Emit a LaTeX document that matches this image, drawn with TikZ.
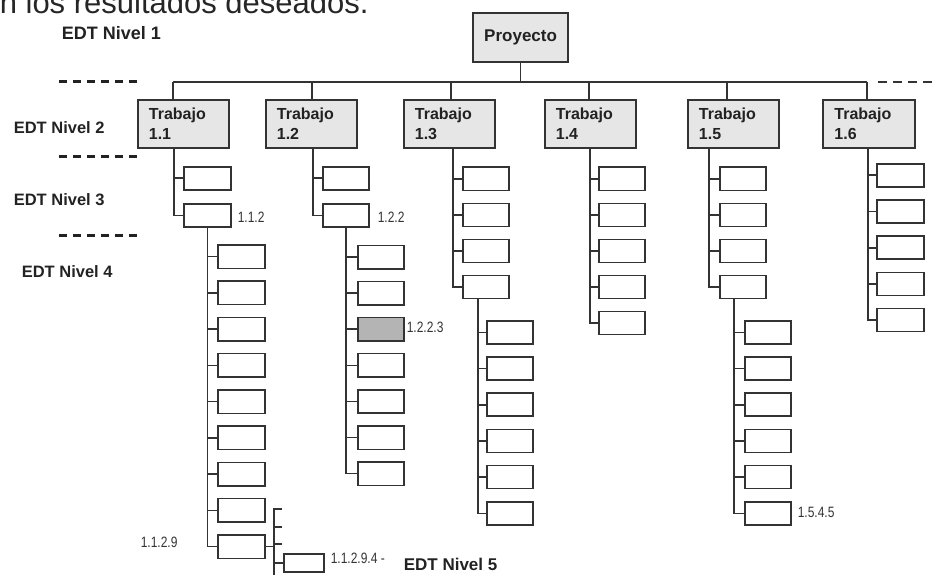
\documentclass[tikz,border=0pt]{standalone}
\usepackage{fontspec}
\usepackage{graphicx}
\setmainfont{Liberation Sans}
\definecolor{ln}{HTML}{333333}
\definecolor{txt}{HTML}{222222}
\definecolor{wpfill}{HTML}{E6E6E6}
\definecolor{hl}{HTML}{B4B4B4}
\newcommand{\narrowtext}[1]{\scalebox{0.8}[1]{#1}}
\begin{document}
\begin{tikzpicture}[x=1pt,y=-1pt,
  line width=1.6pt, color=ln,
  wp/.style={draw=ln, fill=wpfill, line width=1.8pt, anchor=north west,
    minimum width=91pt, minimum height=48pt, inner xsep=11pt, inner ysep=0pt,
    text width=69pt, align=left, font=\fontsize{16}{20}\selectfont\bfseries, text=txt},
  wbox/.style={draw=ln, fill=white, line width=1.6pt, anchor=north west,
    minimum width=46pt, minimum height=23pt, inner sep=0pt},
  lab/.style={anchor=west, inner sep=0pt, font=\fontsize{15}{16}\selectfont, text=ln},
  edt/.style={anchor=west, inner sep=0pt, font=\fontsize{16.5}{18}\selectfont\bfseries, text=txt},
  lvl/.style={draw=txt, line width=3pt, dash pattern=on 8pt off 6pt},
  conn/.style={draw=ln, line width=1.6pt}
]
\useasboundingbox (0,0) rectangle (932,575);

% header text (cut off at top)
\node[anchor=base west, inner sep=0pt, font=\fontsize{31}{31}\selectfont, text=black!85] (hdr) at (-1,14) {n los resultados deseados.};

% level labels
\node[edt, font=\fontsize{18}{20}\selectfont\bfseries] (n1) at (61,33) {EDT Nivel 1};
\node[edt] (n2) at (13,128) {EDT Nivel 2};
\node[edt] (n3) at (13,200) {EDT Nivel 3};
\node[edt] (n4) at (21,272) {EDT Nivel 4};
\node[edt, font=\fontsize{17}{19}\selectfont\bfseries] (n5) at (403,564) {EDT Nivel 5};

% level separators
\coordinate (da0) at (59,82);  \coordinate (da1) at (142,82);
\coordinate (db0) at (59,157); \coordinate (db1) at (142,157);
\coordinate (dc0) at (59,235); \coordinate (dc1) at (142,235);
\draw[lvl] (da0) -- (da1);
\draw[lvl] (db0) -- (db1);
\draw[lvl] (dc0) -- (dc1);

% project
\node[draw=ln, fill=wpfill, line width=2.2pt, anchor=north west, minimum width=95pt,
  minimum height=49pt, font=\fontsize{17}{20}\selectfont\bfseries, text=txt] (proj) at (472,12) {Proyecto};

% level 2
\node[wp] (t11) at (137,99) {Trabajo\\1.1};
\node[wp] (t12) at (265,99) {Trabajo\\1.2};
\node[wp] (t13) at (403,99) {Trabajo\\1.3};
\node[wp] (t14) at (544,99) {Trabajo\\1.4};
\node[wp] (t15) at (687,99) {Trabajo\\1.5};
\node[wp, minimum width=92pt] (t16) at (822,99) {Trabajo\\1.6};

% bus
\coordinate (j11) at (173,82);
\coordinate (j12) at (312,82);
\coordinate (j13) at (451,82);
\coordinate (j14) at (589,82);
\coordinate (j15) at (727,82);
\coordinate (j16) at (867,82);
\coordinate (jr0) at (878,82);
\coordinate (jr1) at (940,82);
\draw[conn] (j11) -- (j16);
\draw[conn, dash pattern=on 9pt off 6pt] (jr0) -- (jr1);
\draw[conn] (proj.south) -- (proj.south |- j11);
\foreach \i in {11,12,13,14,15,16}{
  \draw[conn] (j\i) -- (j\i |- t\i.north);
}

% spines from level 2
\coordinate (s11) at ([xshift=-9.5pt]t11.south);
\coordinate (s12) at ([xshift=1.5pt]t12.south);
\coordinate (s13) at ([xshift=3.5pt]t13.south);
\coordinate (s14) at ([xshift=-0.5pt]t14.south);
\coordinate (s15) at ([xshift=-24.5pt]t15.south);
\coordinate (s16) at ([xshift=-1pt]t16.south);

% column 1.1
\node[wbox, minimum width=47pt] (c11a) at (183,166) {};
\node[wbox, minimum width=47pt] (c11b) at (183,203) {};
\draw[conn] (s11) |- (c11a.west);
\draw[conn] (s11) |- (c11b.west);
\node[lab] (l112) at (237,217) {\narrowtext{1.1.2}};
\foreach \k in {0,...,8}{
  \node[wbox, minimum width=47pt, minimum height=23.5pt] (a\k) at (217,{244+36.25*\k}) {};
  \draw[conn] (c11b.south) |- (a\k.west);
}
\node[lab] (l1129) at (140,542) {\narrowtext{1.1.2.9}};

% level 5 under 1.1.2.9
\coordinate (v5t) at (274,508);
\coordinate (v5b) at (274,580);
\draw[conn] (v5t) -- (v5b);
\draw[conn] (a8.east) -- (a8.east -| v5t);
\foreach \yy [count=\i] in {509,527,544}{
  \coordinate (tk\i) at (282,\yy);
  \draw[conn] (tk\i -| v5t) -- (tk\i);
}
\node[wbox, minimum width=40pt, minimum height=18pt] (p5) at (283,553) {};
\draw[conn] (p5.west -| v5t) -- (p5.west);
\node[lab] (l11294) at (330,558) {\narrowtext{1.1.2.9.4 -}};

% column 1.2
\node[wbox] (c12a) at (322,166) {};
\node[wbox] (c12b) at (322,203) {};
\draw[conn] (s12) |- (c12a.west);
\draw[conn] (s12) |- (c12b.west);
\node[lab] (l122) at (377,217) {\narrowtext{1.2.2}};
\foreach \k in {0,...,6}{
  \node[wbox, minimum height=23.5pt] (b\k) at (357,{244.5+36.1*\k}) {};
  \draw[conn] (c12b.south) |- (b\k.west);
}
\node[wbox, minimum height=23.5pt, fill=hl] (b2x) at (b2.north west) {};
\node[lab] (l1223) at (406,327) {\narrowtext{1.2.2.3}};

% column 1.3
\foreach \k in {0,...,3}{
  \node[wbox] (c\k) at (462,{166.5+36*\k}) {};
  \draw[conn] (s13) |- (c\k.west);
}
\foreach \k in {0,...,5}{
  \node[wbox] (e\k) at (486,{320+36.2*\k}) {};
  \draw[conn] ([xshift=-8pt]c3.south) |- (e\k.west);
}

% column 1.4
\foreach \k in {0,...,4}{
  \node[wbox] (f\k) at (598,{166.5+36*\k}) {};
  \draw[conn] (s14) |- (f\k.west);
}

% column 1.5
\foreach \k in {0,...,3}{
  \node[wbox] (g\k) at (719,{166.5+36*\k}) {};
  \draw[conn] (s15) |- (g\k.west);
}
\foreach \k in {0,...,5}{
  \node[wbox] (h\k) at (744,{320+36.2*\k}) {};
  \draw[conn] ([xshift=-9pt]g3.south) |- (h\k.west);
}
\node[lab] (l1545) at (797,512) {\narrowtext{1.5.4.5}};

% column 1.6
\foreach \k in {0,...,4}{
  \node[wbox, minimum width=47pt] (m\k) at (876,{163+36.2*\k}) {};
  \draw[conn] (s16) |- (m\k.west);
}
\end{tikzpicture}
\end{document}
